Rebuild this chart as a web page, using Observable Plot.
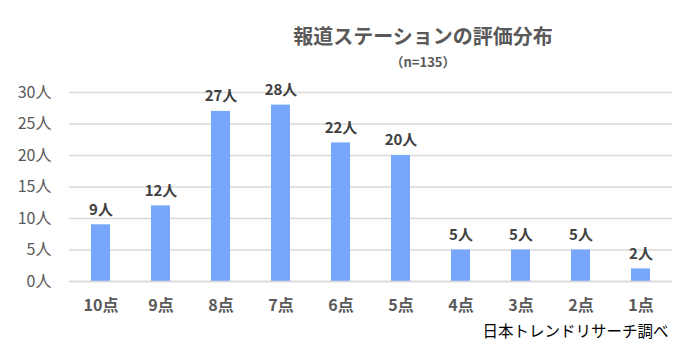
<!DOCTYPE html>
<html>
<head>
<meta charset="utf-8">
<script src="https://cdn.jsdelivr.net/npm/d3@7"></script>
<script src="https://cdn.jsdelivr.net/npm/@observablehq/plot@0.6"></script>
<style>
  html, body { margin: 0; padding: 0; background: #fff; }
  #chart svg { display: block; }
</style>
</head>
<body>
<div id="chart"></div>
<script>
const categories = ["10点", "9点", "8点", "7点", "6点", "5点", "4点", "3点", "2点", "1点"];
const counts = [9, 12, 27, 28, 22, 20, 5, 5, 5, 2];
const yTicks = [0, 5, 10, 15, 20, 25, 30];
const title = "報道ステーションの評価分布";
const subtitle = "（n=135）";
const source = "日本トレンドリサーチ調べ";

const data = categories.map((c, i) => ({category: c, count: counts[i]}));
const font = "'Noto Sans CJK JP', 'Noto Sans', sans-serif";

const chart = Plot.plot({
  width: 700,
  height: 351,
  marginTop: 92,
  marginBottom: 70,
  marginLeft: 69,
  marginRight: 28,
  style: {fontFamily: font, background: "#fff"},
  x: {domain: categories, paddingInner: 0.68, paddingOuter: 0.34, label: null},
  y: {domain: [0, 30], label: null},
  marks: [
    Plot.gridY(yTicks, {stroke: "#d9d9d9", strokeOpacity: 1, strokeWidth: 1.3}),
    Plot.axisY(yTicks, {tickSize: 0, tickPadding: 18, tickFormat: d => d + "人", fontSize: 16, fill: "#595959", label: null}),
    Plot.axisX({tickSize: 0, tickPadding: 18, fontSize: 16, fontWeight: "bold", fill: "#595959", label: null}),
    Plot.barY(data, {x: "category", y: "count", fill: "#76a7fb"}),
    Plot.ruleY([0], {stroke: "#d9d9d9", strokeWidth: 1.3}),
    Plot.text(data, {x: "category", y: "count", text: d => d.count + "人", dy: -15, fontSize: 15, fontWeight: "bold", fill: "#404040"}),
    Plot.text([title], {frameAnchor: "top", dx: 52, dy: -63, fontSize: 20, fontWeight: "bold", fill: "#595959"}),
    Plot.text([subtitle], {frameAnchor: "top", dx: 52, dy: -35, fontSize: 13, fontWeight: "bold", fill: "#595959"}),
    Plot.text([source], {frameAnchor: "bottom-right", dx: -4, dy: 55, textAnchor: "end", fontSize: 15.5, fill: "#000"})
  ]
});
document.getElementById("chart").append(chart);
</script>
</body>
</html>
